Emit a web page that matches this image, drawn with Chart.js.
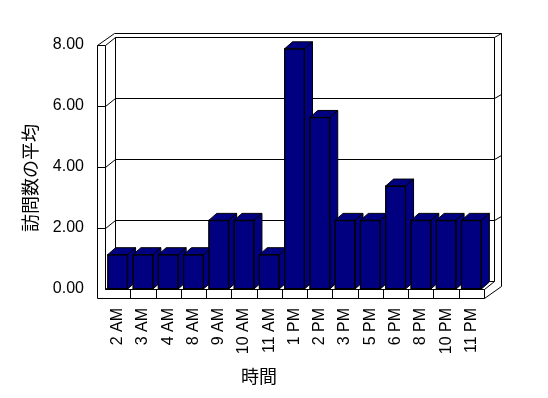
<!DOCTYPE html>
<html>
<head>
<meta charset="utf-8">
<script src="https://cdn.jsdelivr.net/npm/chart.js@4.4.0/dist/chart.umd.min.js"></script>
<style>
    html, body { margin: 0; padding: 0; background: #fff; }
    #wrap { width: 548px; height: 398px; }
</style>
</head>
<body>
<div id="wrap"><canvas id="chart" width="548" height="398"></canvas></div>
<script>
// data
const hours = ['2 AM', '3 AM', '4 AM', '8 AM', '9 AM', '10 AM', '11 AM', '1 PM', '2 PM', '3 PM', '5 PM', '6 PM', '8 PM', '10 PM', '11 PM'];
const avgVisits = [1.125, 1.125, 1.125, 1.125, 2.25, 2.25, 1.125, 7.875, 5.625, 2.25, 2.25, 3.375, 2.25, 2.25, 2.25];
const yTicks = [0, 2, 4, 6, 8];
const xTitle = '時間';
const yTitle = '訪問数の平均';

const NAVY = '#000080';

// Excel style 3D box: walls, floor, gridlines, bar tops and sides
const frame3d = {
    id: 'frame3d',
    beforeDatasetsDraw(chart) {
        const ctx = chart.ctx;
        const a = chart.chartArea;
        const L = a.left, R = a.right, T = a.top, B = a.bottom;
        const WX = 8, FY = 9;     // left wall / floor thickness
        const IX = 10, IY = 8;    // inner back plane offset
        const OX = 17, OY = 12;   // outer back plane offset
        const p = v => Math.round(v) + 0.5;

        ctx.save();
        ctx.strokeStyle = '#000';
        ctx.lineWidth = 1;

        function line(pts) {
            ctx.beginPath();
            ctx.moveTo(p(pts[0][0]), p(pts[0][1]));
            for (let i = 1; i < pts.length; i++) ctx.lineTo(p(pts[i][0]), p(pts[i][1]));
            ctx.stroke();
        }

        // outline
        ctx.beginPath();
        ctx.moveTo(p(L - WX), p(T));
        ctx.lineTo(p(L - WX), p(B + FY));
        ctx.lineTo(p(R), p(B + FY));
        ctx.lineTo(p(R + OX), p(B + FY - OY));
        ctx.lineTo(p(R + OX), p(T - OY));
        ctx.lineTo(p(L - WX + OX), p(T - OY));
        ctx.closePath();
        ctx.fillStyle = '#fff';
        ctx.fill();
        ctx.stroke();

        line([[L - WX, T], [L, T], [L, B]]);
        line([[L, T], [L + IX, T - IY], [R + IX, T - IY], [R + OX, T - OY]]);
        line([[L + IX, T - IY], [L + IX, B - IY]]);
        line([[R + IX, T - IY], [R + IX, B - IY]]);
        line([[L, B], [L + IX, B - IY], [R + IX, B - IY]]);
        line([[L, B], [R, B], [R, B + FY]]);
        line([[R, B], [R + IX, B - IY]]);

        // gridlines wrapping the walls
        const ys = chart.scales.y;
        yTicks.forEach(v => {
            if (v === yTicks[0] || v === yTicks[yTicks.length - 1]) return;
            const y = ys.getPixelForValue(v);
            line([[L - WX, y], [L, y], [L + IX, y - IY], [R + IX, y - IY], [R + OX, y - OY]]);
        });

        // category divisions on the floor front
        const xs = chart.scales.x;
        const step = (R - L) / hours.length;
        for (let i = 1; i < hours.length; i++) {
            line([[L + i * step, B], [L + i * step, B + FY]]);
        }

        // bar tops and right sides, left to right
        const BX = 8, BY = 7;
        const meta = chart.getDatasetMeta(0);
        meta.data.forEach(bar => {
            const x0 = bar.x - bar.width / 2, x1 = bar.x + bar.width / 2;
            const yt = bar.y, yb = bar.base;
            ctx.fillStyle = NAVY;
            ctx.beginPath();
            ctx.moveTo(x1, yb);
            ctx.lineTo(x1, yt);
            ctx.lineTo(x1 + BX, yt - BY);
            ctx.lineTo(x1 + BX, yb - BY);
            ctx.closePath();
            ctx.fill();
            ctx.stroke();
            ctx.beginPath();
            ctx.moveTo(x0, yt);
            ctx.lineTo(x0 + BX, yt - BY);
            ctx.lineTo(x1 + BX, yt - BY);
            ctx.lineTo(x1, yt);
            ctx.closePath();
            ctx.fill();
            ctx.stroke();
            ctx.fillRect(x0, yt, x1 - x0, yb - yt);
            ctx.strokeRect(x0, yt, x1 - x0, yb - yt);
        });
        ctx.restore();
    },
    afterDraw(chart) {
        const ctx = chart.ctx;
        ctx.save();
        ctx.fillStyle = '#000';
        ctx.font = '18px "Noto Sans CJK JP"';
        ctx.textAlign = 'center';
        ctx.textBaseline = 'middle';
        ctx.fillText(xTitle, 259, 376);
        ctx.translate(30, 178);
        ctx.rotate(-Math.PI / 2);
        ctx.fillText(yTitle, 0, 0);
        ctx.restore();
    }
};

const tickFont = { family: 'Arial, "Liberation Sans"', size: 16 };

new Chart(document.getElementById('chart'), {
    type: 'bar',
    data: {
        labels: hours,
        datasets: [{
            data: avgVisits,
            backgroundColor: NAVY,
            borderColor: '#000',
            borderWidth: 1,
            borderSkipped: false,
            barPercentage: 0.79,
            categoryPercentage: 1
        }]
    },
    options: {
        responsive: false,
        animation: false,
        devicePixelRatio: 1,
        layout: { padding: { left: 0, top: 45, right: 64, bottom: 0 } },
        plugins: { legend: { display: false }, tooltip: { enabled: false } },
        scales: {
            x: {
                grid: { display: false, drawTicks: false },
                border: { display: false },
                ticks: {
                    color: '#000', font: tickFont, padding: 19,
                    minRotation: 90, maxRotation: 90, autoSkip: false
                },
                afterFit(scale) { scale.height = 109; }
            },
            y: {
                min: 0, max: 8,
                grid: { display: false, drawTicks: false },
                border: { display: false },
                ticks: {
                    color: '#000', font: tickFont, padding: 21, stepSize: 2,
                    callback: v => v.toFixed(2)
                },
                afterFit(scale) { scale.width = 105; }
            }
        }
    },
    plugins: [frame3d]
});
</script>
</body>
</html>
